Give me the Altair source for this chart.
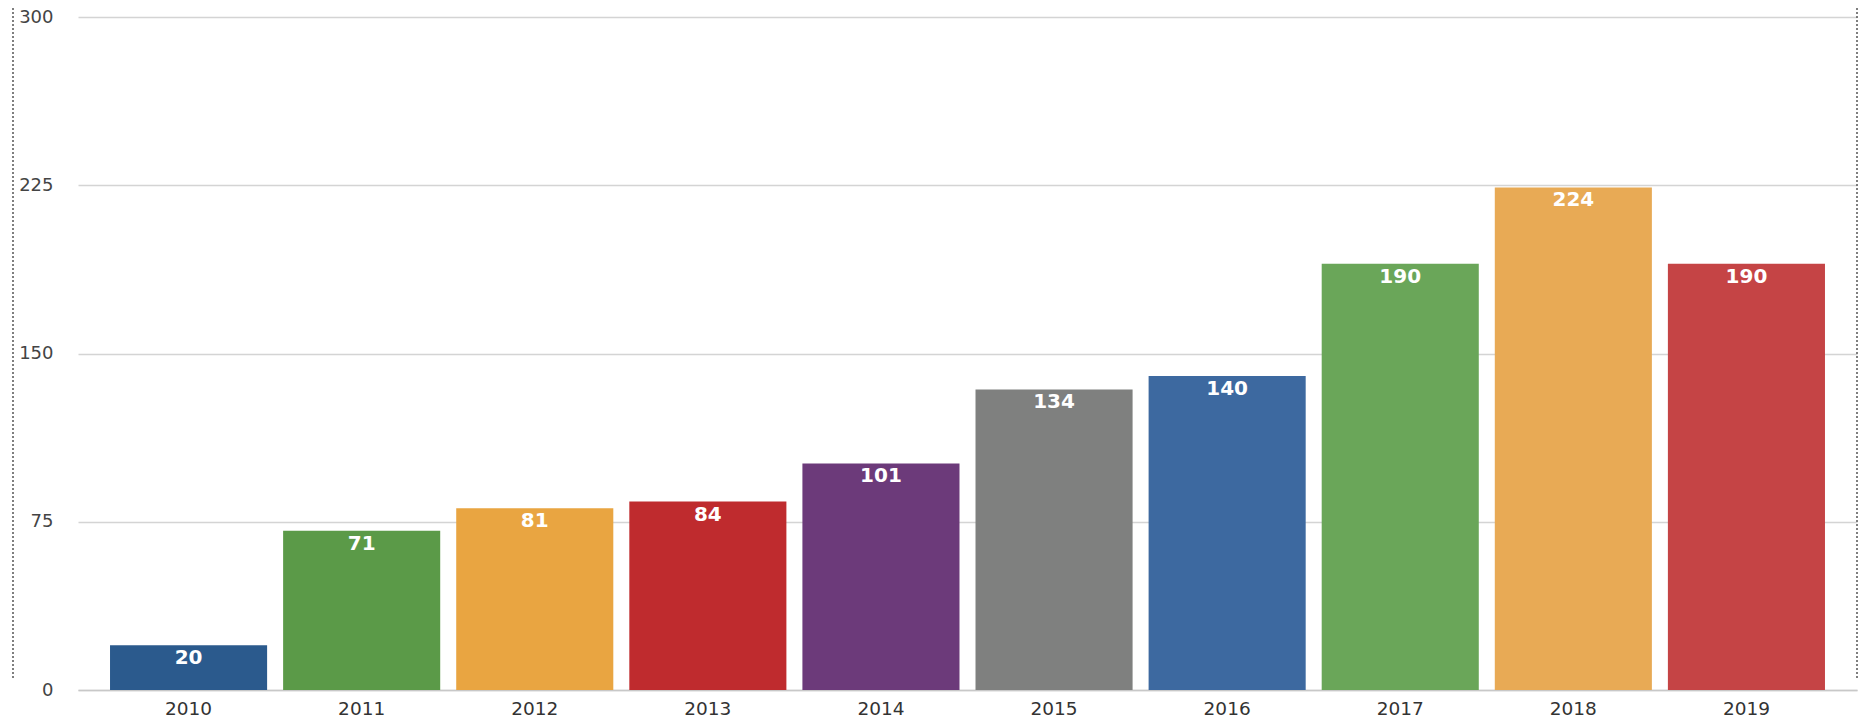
import altair as alt
import pandas as pd

years = ["2010", "2011", "2012", "2013", "2014", "2015", "2016", "2017", "2018", "2019"]
values = [20, 71, 81, 84, 101, 134, 140, 190, 224, 190]
colors = ["#2b5a8d", "#5b9a48", "#e9a541", "#bf2b2e", "#6c3a7a",
          "#7f807f", "#3d69a0", "#6aa659", "#e8aa55", "#c54445"]
y_ticks = [0, 75, 150, 225, 300]

df = pd.DataFrame({"year": years, "value": values})

W, H = 1779, 673

x_enc = alt.X("year:N", sort=years, title=None,
              scale=alt.Scale(paddingInner=0.0925, paddingOuter=0.185),
              axis=alt.Axis(labelAngle=0, ticks=False, domain=True, domainColor="#c8c8c8",
                            domainWidth=1.5, labelFont="DejaVu Sans", labelFontSize=18.5,
                            labelColor="#333333", labelPadding=9, grid=False))
y_enc = alt.Y("value:Q", title=None,
              scale=alt.Scale(domain=[0, 300], nice=False),
              axis=alt.Axis(values=y_ticks, ticks=False, domain=False, gridColor="#d4d4d4",
                            gridWidth=1.5, labelFont="DejaVu Sans", labelFontSize=18,
                            labelColor="#444444", labelPadding=25))

bars = alt.Chart(df).mark_bar().encode(
    x=x_enc, y=y_enc,
    color=alt.Color("year:N", scale=alt.Scale(domain=years, range=colors), legend=None),
)

labels = alt.Chart(df).mark_text(color="white", font="DejaVu Sans", fontWeight="bold",
                                 fontSize=20, baseline="middle", dy=13).encode(
    x=alt.X("year:N", sort=years), y=alt.Y("value:Q"), text="value:Q")

border = alt.Chart(pd.DataFrame({"p": [-65, W]})).mark_rule(
    color="#555555", strokeDash=[2, 2], strokeWidth=1.5).encode(
    x=alt.X("p:Q", scale=None), y=alt.value(-9), y2=alt.value(661))

chart = alt.layer(bars, labels, border).properties(
    width=W, height=H,
    padding={"left": 78, "top": 17, "right": 7, "bottom": 35},
    autosize=alt.AutoSizeParams(type="none"),
    background="white",
).configure_view(strokeWidth=0, stroke="transparent")

chart.save("out.html", embed_options={"renderer": "svg", "actions": False})
